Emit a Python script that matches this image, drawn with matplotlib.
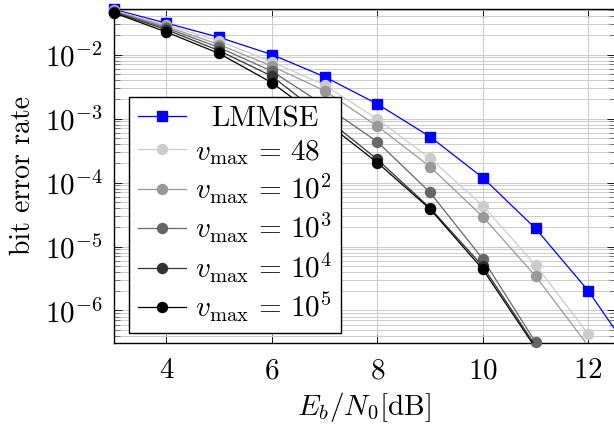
import matplotlib
matplotlib.use("Agg")
import matplotlib.pyplot as plt
import numpy as np

plt.rcParams['font.family'] = 'serif'
plt.rcParams['font.serif'] = ['cmr10', 'DejaVu Serif']
plt.rcParams['mathtext.fontset'] = 'cm'
plt.rcParams['axes.unicode_minus'] = False
plt.rcParams['axes.formatter.use_mathtext'] = True

# ---- data ----
snr_lmmse = [3, 4, 5, 6, 7, 8, 9, 10, 11, 12, 13]
ber_lmmse = [5.1e-2, 3.1e-2, 1.86e-2, 1.0e-2, 4.5e-3, 1.69e-3, 5.2e-4, 1.19e-4, 1.92e-5, 2.03e-6, 1.3e-7]

snr_48 = [3, 4, 5, 6, 7, 8, 9, 10, 11, 12]
ber_48 = [4.9e-2, 2.9e-2, 1.63e-2, 7.7e-3, 3.34e-3, 9.8e-4, 2.39e-4, 4.34e-5, 5.14e-6, 4.3e-7]

snr_1e2 = [3, 4, 5, 6, 7, 8, 9, 10, 11, 12]
ber_1e2 = [4.8e-2, 2.75e-2, 1.43e-2, 6.6e-3, 2.72e-3, 7.6e-4, 1.77e-4, 2.92e-5, 3.46e-6, 2.8e-7]

snr_1e3 = [3, 4, 5, 6, 7, 8, 9, 10, 11]
ber_1e3 = [4.7e-2, 2.6e-2, 1.29e-2, 5.5e-3, 1.6e-3, 4.34e-4, 7.0e-5, 6.38e-6, 3.2e-7]

snr_1e4 = [3, 4, 5, 6, 7, 8, 9, 10, 11]
ber_1e4 = [4.6e-2, 2.45e-2, 1.15e-2, 4.6e-3, 1.05e-3, 2.3e-4, 4.0e-5, 4.9e-6, 2.8e-7]

snr_1e5 = [3, 4, 5, 6, 7, 8, 9, 10, 11]
ber_1e5 = [4.5e-2, 2.25e-2, 1.04e-2, 3.63e-3, 9.0e-4, 2.05e-4, 3.85e-5, 4.4e-6, 2.6e-7]

labels = ['LMMSE', r'$v_{\max}\,=\,48$', r'$v_{\max}\,=\,10^2$', r'$v_{\max}\,=\,10^3$',
          r'$v_{\max}\,=\,10^4$', r'$v_{\max}\,=\,10^5$']
xticks = [4, 6, 8, 10, 12]
yticks = [1e-6, 1e-5, 1e-4, 1e-3, 1e-2]
xlim = (3, 12.5)
ylim = (3.16e-7, 5.1e-2)

series = [
    (snr_lmmse, ber_lmmse, '#0000ff', 's', 7.0),
    (snr_48, ber_48, '#cccccc', 'o', 7.2),
    (snr_1e2, ber_1e2, '#999999', 'o', 7.2),
    (snr_1e3, ber_1e3, '#666666', 'o', 7.2),
    (snr_1e4, ber_1e4, '#333333', 'o', 7.2),
    (snr_1e5, ber_1e5, '#000000', 'o', 7.2),
]

FS = 21

fig = plt.figure(figsize=(6.14, 4.26), dpi=100)
ax = fig.add_axes([113.7 / 614, (426 - 342.5) / 426, 500.9 / 614, (342.5 - 9.3) / 426])
ax.set_yscale('log')
ax.set_xlim(*xlim)
ax.set_ylim(*ylim)

handles = []
for i in range(len(series)):
    x, y, c, m, ms = series[i]
    x = np.asarray(x, float)
    y = np.asarray(y, float)
    ax.plot(x, y, color=c, lw=0.9, zorder=3 + i * 0.1)
    inside = (y >= ylim[0]) & (y <= ylim[1] * 1.2)
    ax.plot(x[inside], y[inside], ls='none', marker=m, ms=ms, color=c,
            mec=c, clip_on=False, zorder=3.05 + i * 0.1)
    h, = ax.plot([], [], color=c, lw=0.9, marker=m, ms=ms, mec=c)
    handles.append(h)

ax.set_xticks(xticks)
ax.set_yticks(yticks)
ax.tick_params(axis='both', which='major', direction='in', top=True, right=True,
               length=6, width=0.6, labelsize=FS)
ax.tick_params(axis='x', which='major', pad=11)
ax.tick_params(axis='y', which='major', pad=8)
ax.tick_params(axis='y', which='minor', direction='in', right=True, left=True,
               length=4, width=0.5, color='#555555')
ax.tick_params(axis='x', which='minor', bottom=False, top=False)
ax.grid(True, which='major', color='#cccccc', lw=0.8, zorder=0)
ax.grid(True, which='minor', axis='y', color='#cccccc', lw=0.7, zorder=0)
ax.set_axisbelow(True)
for s in ax.spines.values():
    s.set_linewidth(1.0)

ax.set_xlabel(r'$E_b/N_0$[dB]', fontsize=FS, labelpad=4)
ax.set_ylabel('bit error rate', fontsize=20, labelpad=6)

leg = ax.legend(handles, labels, loc='lower left', bbox_to_anchor=(0.031, 0.029),
                borderaxespad=0, fontsize=FS, fancybox=False, framealpha=1,
                edgecolor='black', handlelength=1.65, handletextpad=0.3,
                labelspacing=0.18, borderpad=0.3)
leg.get_frame().set_linewidth(1.0)
leg.set_zorder(10)
leg.get_texts()[0].set_x(16)

fig.savefig('out.png', dpi=100)
